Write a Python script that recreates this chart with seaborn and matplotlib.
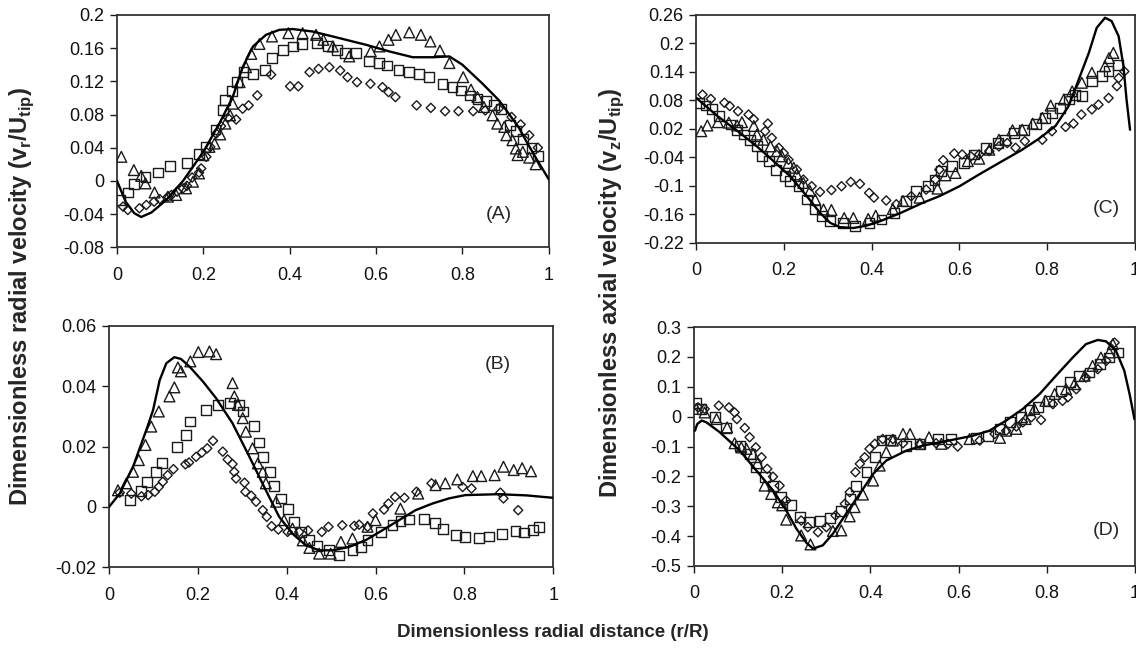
import numpy as np
import matplotlib
matplotlib.use("Agg")
import matplotlib.pyplot as plt
import seaborn as sns

# ---- panel A : radial velocity, upper ----
a_line_x = [0, 0.02, 0.04, 0.056, 0.08, 0.114, 0.153, 0.2, 0.237, 0.268, 0.291, 0.315, 0.345, 0.376, 0.407,
            0.453, 0.5, 0.577, 0.631, 0.685, 0.731, 0.77, 0.8, 0.847, 0.885, 0.93, 0.95, 0.97, 1.0]
a_line_y = [0.0, -0.025, -0.039, -0.0435, -0.038, -0.023, 0.0, 0.035, 0.069, 0.101, 0.137, 0.162, 0.176, 0.182, 0.183,
            0.18, 0.174, 0.164, 0.156, 0.149, 0.149, 0.15, 0.14, 0.117, 0.097, 0.065, 0.046, 0.028, 0.002]
a_tri_x = [0.010, 0.039, 0.056, 0.066, 0.087, 0.118, 0.137, 0.160, 0.176, 0.19, 0.20, 0.214, 0.226, 0.239, 0.251,
           0.262, 0.268, 0.284, 0.299, 0.311, 0.33, 0.359, 0.397, 0.43, 0.461, 0.478, 0.5, 0.538, 0.588, 0.608,
           0.629, 0.646, 0.677, 0.704, 0.726, 0.748, 0.77, 0.802, 0.82, 0.835, 0.85, 0.87, 0.881, 0.897, 0.902,
           0.916, 0.924, 0.928, 0.94, 0.955, 0.97]
a_tri_y = [0.029, 0.013, 0.006, -0.003, -0.014, -0.019, -0.017, -0.009, -0.001, 0.009, 0.031, 0.041, 0.045, 0.056,
           0.069, 0.079, 0.093, 0.119, 0.137, 0.153, 0.165, 0.174, 0.178, 0.178, 0.176, 0.17, 0.162, 0.15, 0.156,
           0.162, 0.17, 0.176, 0.179, 0.176, 0.168, 0.157, 0.142, 0.125, 0.11, 0.101, 0.089, 0.079, 0.069, 0.065,
           0.055, 0.049, 0.039, 0.031, 0.035, 0.028, 0.02]
a_sq_x = [0.008, 0.025, 0.039, 0.066, 0.095, 0.123, 0.162, 0.189, 0.205, 0.228, 0.245, 0.251, 0.267, 0.278, 0.293,
          0.315, 0.342, 0.359, 0.384, 0.407, 0.428, 0.463, 0.488, 0.509, 0.529, 0.554, 0.583, 0.606, 0.625, 0.652,
          0.677, 0.7, 0.723, 0.754, 0.777, 0.796, 0.817, 0.835, 0.854, 0.874, 0.889, 0.91, 0.924, 0.94, 0.96, 0.975]
a_sq_y = [-0.023, -0.014, -0.004, 0.005, 0.01, 0.018, 0.022, 0.032, 0.041, 0.062, 0.085, 0.097, 0.108, 0.119, 0.131,
          0.129, 0.134, 0.148, 0.158, 0.162, 0.165, 0.166, 0.163, 0.158, 0.154, 0.154, 0.144, 0.142, 0.139, 0.134,
          0.131, 0.129, 0.125, 0.117, 0.113, 0.109, 0.103, 0.099, 0.096, 0.091, 0.087, 0.067, 0.06, 0.05, 0.04, 0.03]
a_dia_x = [0.014, 0.025, 0.052, 0.068, 0.086, 0.099, 0.118, 0.126, 0.139, 0.153, 0.162, 0.174, 0.19, 0.195, 0.207,
           0.216, 0.23, 0.241, 0.257, 0.276, 0.291, 0.305, 0.325, 0.357, 0.401, 0.42, 0.446, 0.467, 0.492, 0.517,
           0.534, 0.556, 0.587, 0.615, 0.629, 0.645, 0.694, 0.727, 0.76, 0.791, 0.825, 0.853, 0.884, 0.914, 0.935,
           0.955, 0.975]
a_dia_y = [-0.031, -0.035, -0.033, -0.029, -0.025, -0.022, -0.019, -0.017, -0.013, -0.009, -0.006, 0.004, 0.01,
           0.015, 0.029, 0.041, 0.057, 0.066, 0.076, 0.074, 0.087, 0.091, 0.103, 0.128, 0.114, 0.114, 0.131, 0.135,
           0.137, 0.133, 0.125, 0.119, 0.117, 0.113, 0.107, 0.101, 0.091, 0.088, 0.084, 0.084, 0.084, 0.085, 0.087,
           0.077, 0.068, 0.055, 0.04]

# ---- panel B : radial velocity, lower ----
b_line_x = [0, 0.024, 0.054, 0.084, 0.099, 0.114, 0.129, 0.147, 0.162, 0.181, 0.211, 0.241, 0.278, 0.316, 0.353,
            0.383, 0.413, 0.443, 0.473, 0.503, 0.54, 0.578, 0.615, 0.653, 0.69, 0.728, 0.765, 0.802, 0.877, 0.94, 1.0]
b_line_y = [0.0, 0.0044, 0.0133, 0.0255, 0.032, 0.042, 0.0476, 0.0496, 0.049, 0.0465, 0.0416, 0.036, 0.0277,
            0.0166, 0.0055, -0.0033, -0.0089, -0.0127, -0.0144, -0.0144, -0.0133, -0.011, -0.0078, -0.0044,
            -0.0011, 0.0011, 0.0028, 0.0039, 0.0042, 0.0038, 0.003]
b_tri_x = [0.02, 0.039, 0.054, 0.067, 0.082, 0.095, 0.112, 0.136, 0.147, 0.155, 0.162, 0.183, 0.201, 0.226, 0.241,
           0.278, 0.282, 0.29, 0.301, 0.308, 0.323, 0.335, 0.346, 0.353, 0.376, 0.394, 0.413, 0.436, 0.451, 0.473,
           0.499, 0.522, 0.548, 0.582, 0.6, 0.656, 0.696, 0.735, 0.757, 0.784, 0.819, 0.838, 0.868, 0.888, 0.911,
           0.93, 0.95]
b_tri_y = [0.0055, 0.0078, 0.0116, 0.0155, 0.0205, 0.0266, 0.0316, 0.0366, 0.0396, 0.0462, 0.0449, 0.0482, 0.0513,
           0.0515, 0.0506, 0.041, 0.0366, 0.0338, 0.0294, 0.0249, 0.0194, 0.0144, 0.0116, 0.0078, 0.0017, -0.0044,
           -0.0072, -0.0111, -0.0136, -0.0155, -0.0155, -0.0116, -0.0105, -0.0066, -0.0044, -0.0006, 0.0044,
           0.0072, 0.0078, 0.0091, 0.0102, 0.0102, 0.0105, 0.0133, 0.0122, 0.0128, 0.0118]
b_sq_x = [0.048, 0.071, 0.085, 0.106, 0.119, 0.153, 0.174, 0.183, 0.219, 0.245, 0.273, 0.293, 0.302, 0.327, 0.337,
          0.346, 0.362, 0.372, 0.387, 0.402, 0.417, 0.432, 0.451, 0.469, 0.496, 0.518, 0.548, 0.567, 0.582, 0.612,
          0.638, 0.656, 0.675, 0.709, 0.734, 0.751, 0.781, 0.802, 0.832, 0.856, 0.885, 0.915, 0.935, 0.955, 0.968]
b_sq_y = [0.0022, 0.0053, 0.0083, 0.0116, 0.0146, 0.0199, 0.0238, 0.0283, 0.0321, 0.0338, 0.0343, 0.0338, 0.0316,
          0.0268, 0.0213, 0.0166, 0.0116, 0.0069, 0.0028, -0.0006, -0.005, -0.0083, -0.0111, -0.0131, -0.0144,
          -0.0161, -0.0144, -0.0133, -0.0111, -0.0083, -0.0061, -0.0048, -0.0042, -0.0039, -0.0053, -0.0072,
          -0.0094, -0.01, -0.0102, -0.0098, -0.0091, -0.008, -0.0085, -0.0078, -0.0068]
b_dia_x = [0.024, 0.05, 0.073, 0.088, 0.103, 0.112, 0.121, 0.132, 0.145, 0.172, 0.18, 0.196, 0.209, 0.221, 0.234,
           0.256, 0.267, 0.278, 0.282, 0.286, 0.305, 0.307, 0.32, 0.331, 0.346, 0.355, 0.366, 0.381, 0.402, 0.428,
           0.448, 0.479, 0.494, 0.525, 0.552, 0.563, 0.582, 0.594, 0.619, 0.629, 0.644, 0.665, 0.692, 0.726, 0.796,
           0.816, 0.881, 0.888, 0.921]
b_dia_y = [0.0047, 0.0044, 0.0035, 0.0039, 0.005, 0.0066, 0.0083, 0.0105, 0.0125, 0.0141, 0.0147, 0.0166, 0.018,
           0.0194, 0.0219, 0.0183, 0.0157, 0.0142, 0.0116, 0.0094, 0.008, 0.005, 0.0037, 0.0017, -0.0011, -0.0033,
           -0.0064, -0.0075, -0.0083, -0.0083, -0.0078, -0.0083, -0.0066, -0.0061, -0.0063, -0.0059, -0.0066,
           -0.0022, -0.0009, 0.0011, 0.0033, 0.003, 0.005, 0.0078, 0.0066, 0.0061, 0.0047, 0.0028, -0.0011]

# ---- panel C : axial velocity, upper ----
c_line_x = [0.0, 0.048, 0.1, 0.138, 0.176, 0.214, 0.252, 0.282, 0.305, 0.327, 0.358, 0.388, 0.418, 0.464, 0.516,
            0.554, 0.6, 0.645, 0.69, 0.743, 0.781, 0.819, 0.849, 0.872, 0.895, 0.913, 0.932, 0.947, 0.963, 0.974,
            0.981, 0.989]
c_line_y = [0.085, 0.047, 0.011, -0.017, -0.048, -0.08, -0.122, -0.157, -0.178, -0.187, -0.189, -0.184, -0.175,
            -0.158, -0.136, -0.122, -0.101, -0.076, -0.052, -0.024, -0.001, 0.026, 0.068, 0.124, 0.18, 0.233,
            0.254, 0.247, 0.215, 0.152, 0.082, 0.018]
c_tri_x = [0.011, 0.025, 0.049, 0.074, 0.093, 0.104, 0.131, 0.138, 0.153, 0.169, 0.184, 0.195, 0.21, 0.222, 0.229,
           0.244, 0.259, 0.271, 0.29, 0.308, 0.337, 0.358, 0.392, 0.409, 0.448, 0.471, 0.509, 0.55, 0.568, 0.591,
           0.619, 0.645, 0.668, 0.69, 0.721, 0.743, 0.767, 0.789, 0.808, 0.838, 0.857, 0.879, 0.902, 0.932, 0.941,
           0.951]
c_tri_y = [0.015, 0.027, 0.034, 0.033, 0.027, 0.034, 0.026, 0.008, -0.003, -0.017, -0.027, -0.038, -0.052, -0.062,
           -0.076, -0.094, -0.111, -0.129, -0.15, -0.151, -0.168, -0.168, -0.17, -0.163, -0.149, -0.132, -0.125,
           -0.106, -0.078, -0.073, -0.048, -0.043, -0.024, -0.003, 0.017, 0.018, 0.031, 0.043, 0.069, 0.082, 0.099,
           0.117, 0.138, 0.152, 0.169, 0.18]
c_sq_x = [0.006, 0.021, 0.036, 0.051, 0.078, 0.093, 0.108, 0.123, 0.138, 0.15, 0.165, 0.182, 0.203, 0.214, 0.233,
          0.252, 0.271, 0.286, 0.305, 0.335, 0.361, 0.395, 0.422, 0.452, 0.479, 0.501, 0.528, 0.543, 0.558, 0.583,
          0.611, 0.634, 0.66, 0.687, 0.704, 0.724, 0.747, 0.774, 0.795, 0.811, 0.83, 0.849, 0.864, 0.879, 0.902,
          0.925, 0.94, 0.961]
c_sq_y = [0.075, 0.069, 0.061, 0.047, 0.029, 0.018, 0.008, -0.003, -0.017, -0.038, -0.048, -0.066, -0.08, -0.09,
          -0.101, -0.129, -0.15, -0.164, -0.175, -0.179, -0.184, -0.178, -0.171, -0.157, -0.132, -0.111, -0.101,
          -0.087, -0.069, -0.059, -0.052, -0.034, -0.02, -0.01, -0.003, 0.011, 0.017, 0.031, 0.043, 0.054, 0.064,
          0.082, 0.092, 0.089, 0.12, 0.131, 0.141, 0.155]
c_dia_x = [0.014, 0.033, 0.064, 0.076, 0.095, 0.119, 0.131, 0.163, 0.157, 0.172, 0.188, 0.199, 0.21, 0.229, 0.244,
           0.263, 0.282, 0.308, 0.331, 0.352, 0.373, 0.394, 0.405, 0.433, 0.456, 0.49, 0.524, 0.545, 0.554, 0.563,
           0.588, 0.606, 0.626, 0.645, 0.668, 0.69, 0.709, 0.728, 0.749, 0.789, 0.811, 0.842, 0.86, 0.878, 0.902,
           0.917, 0.94, 0.959, 0.963, 0.976]
c_dia_y = [0.092, 0.083, 0.075, 0.068, 0.057, 0.05, 0.04, 0.031, 0.015, 0.001, -0.02, -0.031, -0.045, -0.066,
           -0.087, -0.101, -0.113, -0.109, -0.101, -0.092, -0.096, -0.115, -0.125, -0.131, -0.139, -0.122, -0.108,
           -0.087, -0.066, -0.046, -0.032, -0.034, -0.038, -0.034, -0.027, -0.017, -0.01, -0.02, -0.006, -0.003,
           0.015, 0.024, 0.031, 0.05, 0.061, 0.071, 0.085, 0.11, 0.127, 0.141]

# ---- panel D : axial velocity, lower ----
d_line_x = [0.002, 0.007, 0.017, 0.028, 0.058, 0.104, 0.141, 0.179, 0.209, 0.232, 0.255, 0.27, 0.292, 0.315, 0.345,
            0.376, 0.406, 0.436, 0.481, 0.519, 0.557, 0.595, 0.632, 0.67, 0.708, 0.746, 0.784, 0.821, 0.859, 0.889,
            0.916, 0.935, 0.957, 0.976, 0.988, 0.999]
d_line_y = [-0.047, -0.025, -0.013, -0.019, -0.052, -0.114, -0.18, -0.247, -0.314, -0.375, -0.423, -0.442, -0.431,
            -0.392, -0.325, -0.258, -0.192, -0.147, -0.114, -0.097, -0.086, -0.075, -0.064, -0.047, -0.013, 0.026,
            0.076, 0.137, 0.198, 0.243, 0.257, 0.252, 0.221, 0.154, 0.076, -0.008]
d_tri_x = [0.005, 0.024, 0.051, 0.075, 0.092, 0.107, 0.119, 0.134, 0.144, 0.16, 0.175, 0.19, 0.2, 0.209, 0.243,
           0.264, 0.315, 0.334, 0.353, 0.364, 0.383, 0.406, 0.421, 0.436, 0.451, 0.474, 0.49, 0.512, 0.533, 0.561,
           0.625, 0.694, 0.708, 0.731, 0.752, 0.772, 0.797, 0.818, 0.844, 0.863, 0.886, 0.904, 0.923, 0.942, 0.95]
d_tri_y = [0.026, 0.014, -0.008, -0.036, -0.089, -0.103, -0.108, -0.125, -0.156, -0.231, -0.259, -0.287, -0.297,
           -0.345, -0.398, -0.428, -0.383, -0.381, -0.334, -0.303, -0.261, -0.214, -0.164, -0.119, -0.08, -0.058,
           -0.058, -0.091, -0.069, -0.091, -0.075, -0.071, -0.047, -0.041, -0.008, 0.026, 0.053, 0.076, 0.092,
           0.109, 0.137, 0.17, 0.198, 0.215, 0.243]
d_sq_x = [0.005, 0.017, 0.047, 0.072, 0.104, 0.126, 0.141, 0.16, 0.179, 0.198, 0.221, 0.24, 0.261, 0.285, 0.308,
          0.334, 0.353, 0.368, 0.391, 0.41, 0.425, 0.444, 0.481, 0.512, 0.553, 0.583, 0.64, 0.666, 0.693, 0.716,
          0.742, 0.761, 0.78, 0.806, 0.833, 0.852, 0.874, 0.897, 0.92, 0.942, 0.963]
d_sq_y = [0.045, 0.026, -0.002, -0.038, -0.097, -0.125, -0.169, -0.203, -0.231, -0.27, -0.297, -0.336, -0.353,
          -0.35, -0.34, -0.316, -0.275, -0.231, -0.186, -0.136, -0.08, -0.078, -0.097, -0.091, -0.075, -0.075,
          -0.071, -0.064, -0.041, -0.019, -0.002, 0.022, 0.033, 0.053, 0.087, 0.115, 0.137, 0.148, 0.176, 0.198,
          0.215]
d_dia_x = [0.009, 0.024, 0.056, 0.079, 0.092, 0.097, 0.115, 0.126, 0.14, 0.153, 0.166, 0.179, 0.194, 0.209, 0.243,
           0.258, 0.281, 0.3, 0.321, 0.342, 0.353, 0.366, 0.376, 0.387, 0.398, 0.41, 0.428, 0.451, 0.474, 0.512,
           0.549, 0.576, 0.598, 0.648, 0.682, 0.708, 0.731, 0.746, 0.765, 0.787, 0.814, 0.836, 0.848, 0.867, 0.889,
           0.916, 0.935, 0.954]
d_dia_y = [0.031, 0.026, 0.037, 0.031, 0.014, -0.008, -0.038, -0.069, -0.103, -0.136, -0.175, -0.201, -0.231,
           -0.281, -0.348, -0.37, -0.387, -0.37, -0.331, -0.292, -0.253, -0.186, -0.158, -0.136, -0.108, -0.091,
           -0.075, -0.075, -0.089, -0.091, -0.089, -0.091, -0.1, -0.08, -0.058, -0.047, -0.033, -0.019, -0.002,
           -0.011, 0.042, 0.053, 0.065, 0.092, 0.131, 0.159, 0.187, 0.248]

x_ticks = [0, 0.2, 0.4, 0.6, 0.8, 1]
x_labels = ["0", "0.2", "0.4", "0.6", "0.8", "1"]
a_ticks = [-0.08, -0.04, 0, 0.04, 0.08, 0.12, 0.16, 0.2]
a_labels = ["-0.08", "-0.04", "0", "0.04", "0.08", "0.12", "0.16", "0.2"]
b_ticks = [-0.02, 0, 0.02, 0.04, 0.06]
b_labels = ["-0.02", "0", "0.02", "0.04", "0.06"]
c_ticks = [-0.22, -0.16, -0.1, -0.04, 0.02, 0.08, 0.14, 0.2, 0.26]
c_labels = ["-0.22", "-0.16", "-0.1", "-0.04", "0.02", "0.08", "0.14", "0.2", "0.26"]
d_ticks = [-0.5, -0.4, -0.3, -0.2, -0.1, 0, 0.1, 0.2, 0.3]
d_labels = ["-0.5", "-0.4", "-0.3", "-0.2", "-0.1", "0", "0.1", "0.2", "0.3"]

sns.set_theme(style="ticks")
plt.rcParams["font.family"] = ["Liberation Sans", "DejaVu Sans"]
plt.rcParams["mathtext.fontset"] = "custom"
plt.rcParams["mathtext.rm"] = "Liberation Sans:bold"
plt.rcParams["axes.unicode_minus"] = False

INK = "#1a1a1a"
fig = plt.figure(figsize=(11.36, 6.49), dpi=100)


def panel(rect, lx, ly, tri, sq, dia, yticks, ylabels, tag, tag_xy):
    ax = fig.add_axes(rect)
    mk = dict(facecolor="none", edgecolor=INK, color=INK, linewidth=1.0, ax=ax, zorder=3)
    sns.scatterplot(x=tri[0], y=tri[1], marker="^", s=60, **mk)
    sns.scatterplot(x=sq[0], y=sq[1], marker="s", s=50, **mk)
    sns.scatterplot(x=dia[0], y=dia[1], marker="D", s=22, **mk)
    sns.lineplot(x=lx, y=ly, color="black", linewidth=1.7, sort=False, estimator=None, ax=ax, zorder=4)
    ax.set_xlim(0, 1)
    ax.set_ylim(yticks[0], yticks[-1])
    ax.set_xticks(x_ticks, x_labels)
    ax.set_yticks(yticks, ylabels)
    ax.tick_params(labelsize=13, length=5, width=1.0, color=INK, labelcolor="#111", pad=4)
    ax.tick_params(axis="x", pad=9)
    for s in ax.spines.values():
        s.set_color("#333")
        s.set_linewidth(1.3)
        s.set_visible(True)
    ax.set_xlabel("")
    ax.set_ylabel("")
    ax.text(tag_xy[0], tag_xy[1], tag, fontsize=14, ha="center", va="center", transform=ax.transAxes)
    return ax


panel([0.103, 0.619, 0.380, 0.358], a_line_x, a_line_y, (a_tri_x, a_tri_y), (a_sq_x, a_sq_y), (a_dia_x, a_dia_y),
      a_ticks, a_labels, "(A)", (0.885, 0.14))
panel([0.096, 0.126, 0.391, 0.372], b_line_x, b_line_y, (b_tri_x, b_tri_y), (b_sq_x, b_sq_y), (b_dia_x, b_dia_y),
      b_ticks, b_labels, "(B)", (0.875, 0.84))
panel([0.613, 0.626, 0.386, 0.351], c_line_x, c_line_y, (c_tri_x, c_tri_y), (c_sq_x, c_sq_y), (c_dia_x, c_dia_y),
      c_ticks, c_labels, "(C)", (0.935, 0.15))
panel([0.611, 0.128, 0.388, 0.368], d_line_x, d_line_y, (d_tri_x, d_tri_y), (d_sq_x, d_sq_y), (d_dia_x, d_dia_y),
      d_ticks, d_labels, "(D)", (0.935, 0.15))

fig.text(0.019, 0.866, r"Dimensionless radial velocity (v$_\mathrm{r}$/U$_\mathrm{tip}$)", rotation=90,
         fontsize=17, fontweight="bold", ha="center", va="top")
fig.text(0.538, 0.866, r"Dimensionless axial velocity (v$_\mathrm{z}$/U$_\mathrm{tip}$)", rotation=90,
         fontsize=17, fontweight="bold", ha="center", va="top")
fig.text(0.487, 0.025, "Dimensionless radial distance (r/R)", fontsize=13.5, fontweight="bold",
         ha="center", va="center")

fig.savefig("out.png", dpi=100)
